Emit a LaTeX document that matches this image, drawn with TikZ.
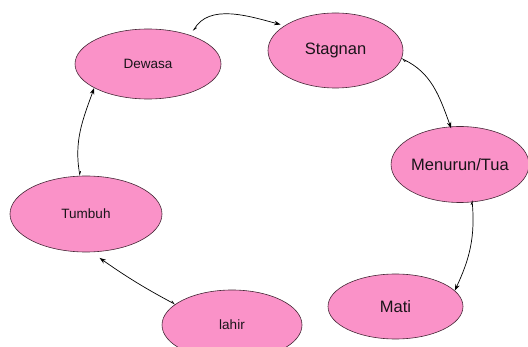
\documentclass[tikz,border=0pt]{standalone}
\usepackage{fontspec}
\setmainfont{Liberation Sans}
\usetikzlibrary{shapes.geometric,arrows.meta}
\definecolor{pinkfill}{RGB}{250,146,200}
\definecolor{edgecol}{RGB}{70,40,55}
\definecolor{txt}{RGB}{25,20,25}
\tikzset{
  stage/.style={ellipse, draw=edgecol, line width=0.6pt, fill=pinkfill, inner sep=0pt, text=txt},
  smalltxt/.style={font=\fontsize{13.5}{15}\selectfont},
  bigtxt/.style={font=\fontsize{16.5}{18}\selectfont},
  flow/.style={draw=black, line width=0.7pt, {Straight Barb[left,length=3pt,width=3pt]}-{Stealth[length=6.5pt,width=4.5pt]}}
}
\begin{document}
\begin{tikzpicture}[x=1pt,y=1pt]
\useasboundingbox (0,0) rectangle (528,-347);
\node[stage, smalltxt, minimum width=146pt, minimum height=70pt] (dewasa) at (148,-64) {Dewasa};
\node[stage, bigtxt, minimum width=135pt, minimum height=75pt] (stagnan) at (335.5,-50.5) {Stagnan};
\node[stage, bigtxt, minimum width=124pt, minimum height=76pt] (menurun) at (460,-164.5) {Menurun/Tua};
\node[stage, smalltxt, minimum width=152pt, minimum height=76pt] (tumbuh) at (86,-214) {Tumbuh};
\node[stage, smalltxt, minimum width=140pt, minimum height=70pt] (lahir) at (232,-325) {lahir};
\node[stage, bigtxt, minimum width=135pt, minimum height=65pt] (mati) at (395.5,-306.5) {Mati};

\draw[flow, shorten <=5pt, shorten >=4pt] (dewasa.34) to[out=60, in=165] (stagnan.154);
\draw[flow, shorten >=-2pt] (stagnan.-7) to[out=-25, in=110] (menurun.104);
\draw[flow, shorten <=-2pt] (menurun.-72) to[out=-85, in=65] (mati.15);
\draw[flow, shorten >=10pt] (lahir.160) to[out=152, in=-35] (tumbuh.-82);
\draw[flow] (tumbuh.99) to[out=100, in=250] (dewasa.204);
\end{tikzpicture}
\end{document}
